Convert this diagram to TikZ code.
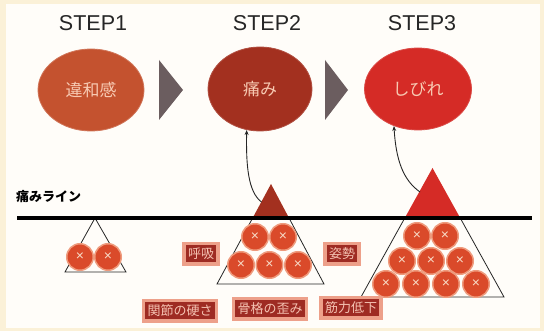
\documentclass[tikz,border=0pt]{standalone}
\usepackage{fontspec}
\setmainfont{Liberation Sans}
\newfontfamily\jp{Noto Sans CJK JP}
\usetikzlibrary{shapes.geometric,arrows.meta,calc}
\definecolor{cream}{HTML}{FBF1D8}
\definecolor{paper}{HTML}{FFFDF9}
\definecolor{eone}{HTML}{C4522F}
\definecolor{etwo}{HTML}{A3301F}
\definecolor{ethree}{HTML}{D52B26}
\definecolor{etext}{HTML}{F7C9B2}
\definecolor{greyarr}{HTML}{6B5D5F}
\definecolor{ballc}{HTML}{DA4A2A}
\definecolor{ballring}{HTML}{EE9A7C}
\definecolor{xcol}{HTML}{F8DCC8}
\definecolor{tagc}{HTML}{9E2B23}
\definecolor{tagring}{HTML}{EDA08A}
\definecolor{tagtext}{HTML}{F5C2B2}
\begin{document}
\begin{tikzpicture}[x=1pt,y=-1pt,
  steptxt/.style={font=\fontsize{21.5}{22}\selectfont, text=black!85},
  bub/.style={ellipse, inner sep=0pt, text=etext, font=\jp\fontsize{17}{17}\selectfont},
  ball/.style={circle, fill=ballc, draw=ballring, line width=1.5pt, minimum size=26.5pt, inner sep=0pt, text=xcol, font=\fontsize{14}{14}\selectfont},
  tag/.style={fill=tagc, draw=tagring, line width=3.5pt, text=tagtext, font=\jp\fontsize{13}{13}\selectfont, inner xsep=4pt, minimum height=20.5pt, inner ysep=0pt},
  conn/.style={draw=black!85, line width=0.9pt, -{Stealth[length=5pt,width=4pt]}},
  tri/.style={draw=black!85, line width=0.8pt, line join=miter}
]
\useasboundingbox (0,0) rectangle (544,331);
\fill[cream] (0,0) rectangle (544,331);
\fill[paper] (6,4) rectangle (540,328);

% step titles
\node[steptxt] (s1) at (93,23) {STEP1};
\node[steptxt] (s2) at (267,23) {STEP2};
\node[steptxt] (s3) at (422,23) {STEP3};

% ellipses
\node[bub, fill=eone, draw=eone!80!white, line width=0.8pt, minimum width=106pt, minimum height=82pt] (e1) at (91,90) {違和感};
\node[bub, fill=etwo, draw=etwo!85!white, line width=0.8pt, minimum width=104pt, minimum height=84pt] (e2) at (260,89) {痛み};
\node[bub, fill=ethree, draw=ethree!85!white, line width=0.8pt, minimum width=107pt, minimum height=82pt] (e3) at (418,89) {しびれ};

% grey arrow triangles
\fill[greyarr] (159,60) -- (183,90) -- (159,120) -- cycle;
\fill[greyarr] (325,60) -- (348,90) -- (325,120) -- cycle;

% pain line label
\node[anchor=west, font=\jp\bfseries\fontsize{13}{13}\selectfont, inner sep=0pt] (pl) at (16,197) {痛みライン};

% triangle corner coordinates
\coordinate (t1a) at (95,218);
\coordinate (t1l) at (65,272);
\coordinate (t1r) at (126,272);
\coordinate (t2a) at (271,184);
\coordinate (t2l) at (217,284);
\coordinate (t2r) at (324,284);
\coordinate (t3a) at (432.5,168);
\coordinate (t3l) at (361,297);
\coordinate (t3r) at (504,297);

% filled tops above the line
\fill[etwo] (t2a) -- ($(t2a)!0.36!(t2l)$) -- ($(t2a)!0.36!(t2r)$) -- cycle;
\fill[ethree] (t3a) -- ($(t3a)!0.40!(t3l)$) -- ($(t3a)!0.40!(t3r)$) -- cycle;

% outlines below the line
\draw[tri] (t1a) -- (t1l) -- (t1r) -- cycle;
\draw[tri] ($(t2a)!0.34!(t2l)$) -- (t2l) -- (t2r) -- ($(t2a)!0.34!(t2r)$);
\draw[tri] ($(t3a)!0.387!(t3l)$) -- (t3l) -- (t3r) -- ($(t3a)!0.387!(t3r)$);

% pain line
\coordinate (l1) at (17,218);
\coordinate (l2) at (532,218);
\draw[line width=3.5pt] (l1) -- (l2);

% balls triangle 1
\node[ball] (b1) at (80,257) {×};
\node[ball] (b2) at (108,257) {×};
% balls triangle 2
\node[ball] (b3) at (255,237) {×};
\node[ball] (b4) at (283,237) {×};
\node[ball] (b5) at (241,265) {×};
\node[ball] (b6) at (269.5,265) {×};
\node[ball] (b7) at (298,265) {×};
% balls triangle 3
\node[ball] (b8) at (417,236) {×};
\node[ball] (b9) at (445,236) {×};
\node[ball] (b10) at (402,261) {×};
\node[ball] (b11) at (431,261) {×};
\node[ball] (b12) at (460,261) {×};
\node[ball] (b13) at (386,284) {×};
\node[ball] (b14) at (416,284) {×};
\node[ball] (b15) at (446,284) {×};
\node[ball] (b16) at (476,284) {×};

% labels
\node[tag] (g1) at (201,254) {呼吸};
\node[tag] (g2) at (342,254) {姿勢};
\node[tag] (g3) at (180,311) {関節の硬さ};
\node[tag] (g4) at (270,309) {骨格の歪み};
\node[tag] (g5) at (351,308) {筋力低下};

% connectors
\coordinate (a2s) at (261.5,202);
\coordinate (a3s) at (420,192);
\draw[conn] (a2s) .. controls (248,192) and (246,165) .. (e2.252);
\draw[conn] (a3s) .. controls (403,180) and (396,160) .. (e3.237);
\end{tikzpicture}
\end{document}
